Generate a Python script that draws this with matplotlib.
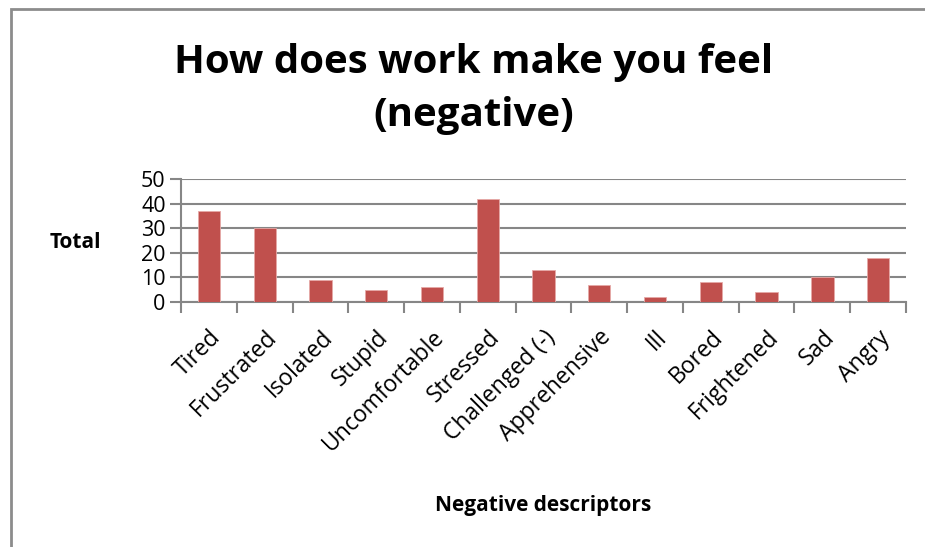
import numpy as np
import matplotlib.pyplot as plt
from matplotlib.patches import Rectangle

plt.rcParams['font.family'] = ['Open Sans', 'DejaVu Sans']

categories = ["Tired", "Frustrated", "Isolated", "Stupid", "Uncomfortable", "Stressed",
              "Challenged (-)", "Apprehensive", "Ill", "Bored", "Frightened", "Sad", "Angry"]
totals = [37, 30, 9, 5, 6, 42, 13, 7, 2, 8, 4, 10, 18]
yticks = [0, 10, 20, 30, 40, 50]

fig = plt.figure(figsize=(9.25, 5.47), dpi=100)
ax = fig.add_axes([0.1957, 0.4479, 0.7838, 0.2249])

x = np.arange(len(categories))
ax.bar(x, totals, width=0.4, color='#C0504D', edgecolor='#E6A9A7', linewidth=0.6, zorder=3)

ax.set_xlim(-0.5, len(categories) - 0.5)
ax.set_ylim(0, 50)
ax.set_yticks(yticks)
ax.set_yticklabels([str(v) for v in yticks], fontsize=15.5)
ax.yaxis.grid(True, color='#868686', linewidth=1.5, zorder=0)

ax.set_xticks(x)
ax.set_xticklabels(categories, rotation=45, ha='right', va='top', rotation_mode='anchor', fontsize=16.5)
ax.tick_params(axis='x', length=0, pad=17)
ax.set_xticks(np.arange(len(categories) + 1) - 0.5, minor=True)
ax.tick_params(axis='x', which='minor', length=8, width=1.5, color='#868686', direction='out')
ax.tick_params(axis='y', length=8, width=1.5, color='#868686', direction='out', pad=3)

for s in ['top', 'right']:
    ax.spines[s].set_visible(False)
for s in ['left', 'bottom']:
    ax.spines[s].set_color('#868686')
    ax.spines[s].set_linewidth(1.5)

fig.text(0.512, 0.837, "How does work make you feel\n(negative)", ha='center', va='center',
         fontsize=29, fontweight='bold', linespacing=1.45)
fig.text(0.082, 0.557, "Total", ha='center', va='center', fontsize=15, fontweight='bold')
fig.text(0.587, 0.075, "Negative descriptors", ha='center', va='center', fontsize=15, fontweight='bold')

fig.patches.append(Rectangle((0.012, -0.1), 1.2, 1.084, transform=fig.transFigure,
                             fill=False, edgecolor='#8C8C8C', linewidth=2))

fig.savefig("out.png", dpi=100)
